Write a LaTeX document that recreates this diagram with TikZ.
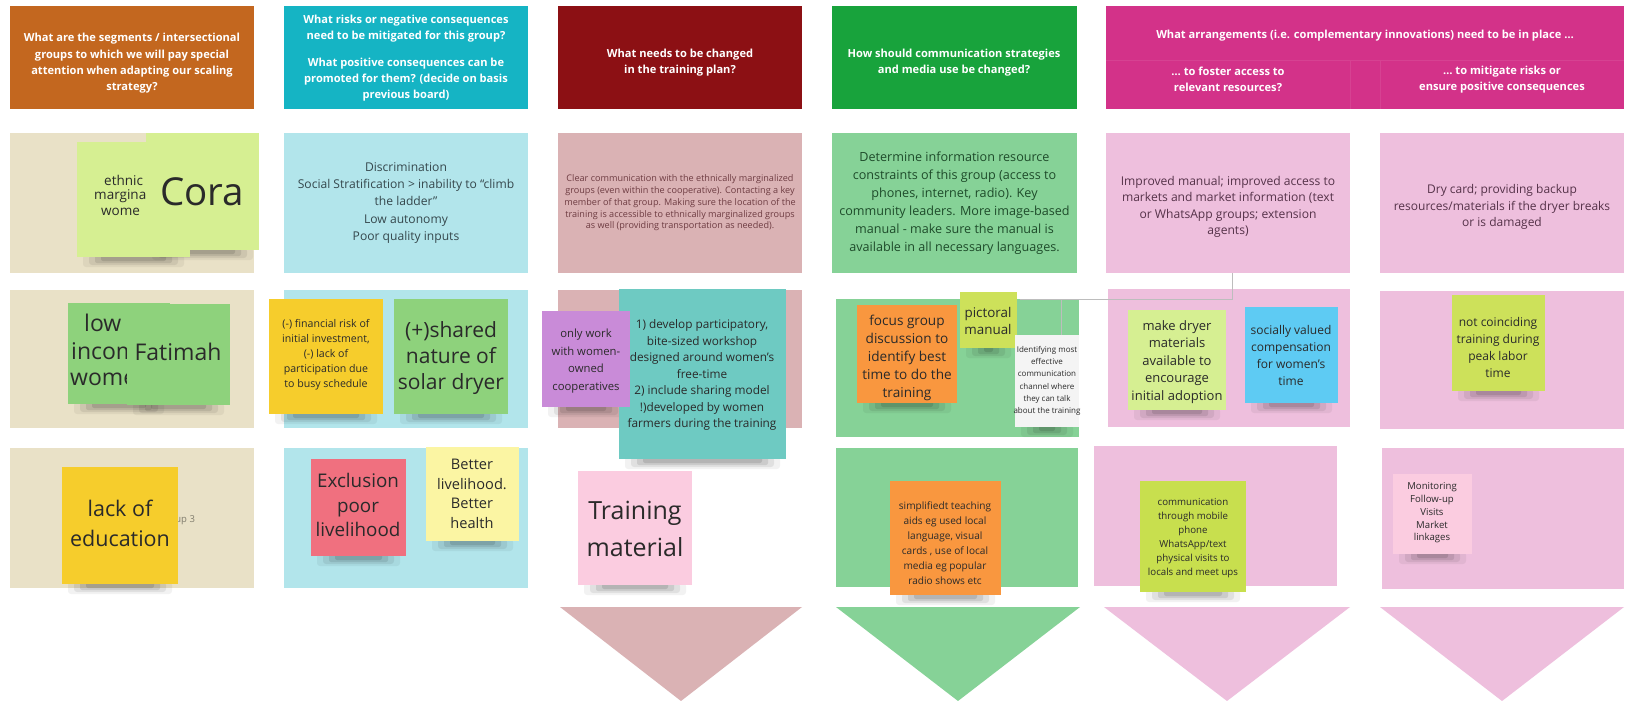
\documentclass[tikz,border=0pt]{standalone}
\usepackage{fontspec}
\setmainfont{Open Sans}
\usetikzlibrary{calc}
\pgfdeclarelayer{bg}
\pgfdeclarelayer{shad}
\pgfsetlayers{bg,shad,main}
\definecolor{hOrange}{HTML}{C3671F}
\definecolor{hTeal}{HTML}{15B4C4}
\definecolor{hRed}{HTML}{8C1014}
\definecolor{hGreen}{HTML}{18A33C}
\definecolor{hMag}{HTML}{D33289}
\definecolor{bBeige}{HTML}{E9E1C7}
\definecolor{bTeal}{HTML}{B2E5EB}
\definecolor{bRosy}{HTML}{DAB2B4}
\definecolor{bGreen}{HTML}{86D297}
\definecolor{bPink}{HTML}{EEBFDD}
\definecolor{nLime}{HTML}{D6EF92}
\definecolor{nGreen}{HTML}{8ED27C}
\definecolor{nYellow}{HTML}{F6CD2C}
\definecolor{nPurple}{HTML}{C98BD8}
\definecolor{nTeal}{HTML}{6ECAC2}
\definecolor{nOrange}{HTML}{F9973F}
\definecolor{nLimeB}{HTML}{CDE15A}
\definecolor{nWhite}{HTML}{F4F4F4}
\definecolor{nBlue}{HTML}{5ECBF3}
\definecolor{nRed}{HTML}{F0707F}
\definecolor{nLYellow}{HTML}{FBF5A3}
\definecolor{nLPink}{HTML}{FBCCE0}
\definecolor{nLimeC}{HTML}{C8DF4E}
\definecolor{tDark}{HTML}{2A2A2A}
\definecolor{tTeal}{HTML}{35474C}
\definecolor{tRosy}{HTML}{6E3C42}
\definecolor{tGreen}{HTML}{1E4B2A}
\definecolor{tPink}{HTML}{553249}
\definecolor{gLine}{HTML}{BDBDBD}
\newcommand\fs[2]{\fontsize{#1}{#2}\selectfont}
\tikzset{
  cell/.style={draw=none,inner sep=0pt,outer sep=0pt,anchor=north west,align=center},
  hdrtxt/.style={text=white,font=\bfseries\fs{11.1}{16},align=center,inner sep=0pt},
  notebox/.style={draw=none,inner sep=0pt,outer sep=0pt,anchor=north west},
  ntxt/.style={align=center,inner sep=0pt,text=tDark},
  gline/.style={draw=gLine,line width=0.8pt}
}
% sticky note with soft shadow: name, colour, x1, y1, x2, y2
\newcommand\sticky[6]{%
  \begin{pgfonlayer}{shad}
    \fill[black,opacity=0.05,rounded corners=3pt] ({#3+6},{#6-2}) rectangle ({#5-6},{#6+10});
    \fill[black,opacity=0.07,rounded corners=3pt] ({#3+12},{#6-2}) rectangle ({#5-12},{#6+8});
    \fill[black,opacity=0.09,rounded corners=2pt] ({#3+18},{#6-2}) rectangle ({#5-18},{#6+6});
    \fill[black,opacity=0.11,rounded corners=2pt] ({#3+24},{#6-2}) rectangle ({#5-24},{#6+4});
  \end{pgfonlayer}
  \node[notebox,fill=#2,minimum width={#5-#3},minimum height={#6-#4}] (#1) at (#3,#4) {};
}
\begin{document}
\begin{tikzpicture}[x=1pt,y=-1pt]
\useasboundingbox (0,0) rectangle (1627,701);
\begin{pgfonlayer}{bg}
\fill[white] (0,0) rectangle (1627,701);
% headers
\node[cell,fill=hOrange,minimum width=244,minimum height=103] (h1) at (10,6) {};
\node[cell,fill=hTeal,minimum width=244,minimum height=103] (h2) at (284,6) {};
\node[cell,fill=hRed,minimum width=244,minimum height=103] (h3) at (558,6) {};
\node[cell,fill=hGreen,minimum width=245,minimum height=103] (h4) at (832,6) {};
\node[cell,fill=hMag,minimum width=518,minimum height=103] (h5) at (1106,6) {};
\draw[white,opacity=0.08,line width=0.8pt] (1106,60) -- (1624,60) (1350,60) -- (1350,109) (1380,60) -- (1380,109);
\end{pgfonlayer}
\node[hdrtxt,font=\bfseries\fs{11.1}{16.3}] (h1t) at (132,63.5)
  {What are the segments / intersectional\\groups to which we will pay special\\attention when adapting our scaling\\strategy?};
\node[hdrtxt] (h2t) at (406,58.5)
  {What risks or negative consequences\\need to be mitigated for this group?\\[11pt]What positive consequences can be\\promoted for them? (decide on basis\\previous board)};
\node[hdrtxt] (h3t) at (680,62.5) {What needs to be changed\\in the training plan?};
\node[hdrtxt] (h4t) at (954,62.5) {How should communication strategies\\and media use be changed?};
\node[hdrtxt] (h5t) at (1365,36) {What arrangements (i.e. complementary innovations) need to be in place \dots};
\node[hdrtxt] (h5a) at (1228,79.5) {\dots\ to foster access to\\relevant resources?};
\node[hdrtxt] (h5b) at (1502,79.5) {\dots\ to mitigate risks or\\ensure positive consequences};
\begin{pgfonlayer}{bg}
% row 2
\node[cell,fill=bBeige,minimum width=244,minimum height=140] (r2c1) at (10,133) {};
\node[cell,fill=bTeal,minimum width=244,minimum height=140,text=tTeal,font=\fs{12.1}{17.4}] (r2c2) at (284,133)
  {Discrimination\\Social Stratification > inability to “climb\\the ladder”\\Low autonomy\\Poor quality inputs};
\node[cell,fill=bRosy,minimum width=244,minimum height=140,text=tRosy,font=\fs{9.1}{11.8}] (r2c3) at (558,133)
  {Clear communication with the ethnically marginalized\\groups (even within the cooperative). Contacting a key\\member of that group. Making sure the location of the\\training is accessible to ethnically marginalized groups\\as well (providing transportation as needed).};
\node[cell,fill=bGreen,minimum width=245,minimum height=140,text=tGreen,font=\fs{12.6}{18}] (r2c4) at (832,133)
  {Determine information resource\\constraints of this group (access to\\phones, internet, radio). Key\\community leaders. More image-based\\manual - make sure the manual is\\available in all necessary languages.};
\node[cell,fill=bPink,minimum width=244,minimum height=140] (r2c5a) at (1106,133) {};
\node[cell,fill=bPink,minimum width=244,minimum height=140] (r2c5b) at (1380,133) {};
% row 3
\node[cell,fill=bBeige,minimum width=244,minimum height=138] (r3c1) at (10,290) {};
\node[cell,fill=bTeal,minimum width=244,minimum height=138] (r3c2) at (284,290) {};
\node[cell,fill=bRosy,minimum width=244,minimum height=138] (r3c3) at (558,290) {};
\node[cell,fill=bGreen,minimum width=243,minimum height=138] (r3c4) at (836,299) {};
\node[cell,fill=bPink,minimum width=242,minimum height=138] (r3c5a) at (1108,289) {};
\node[cell,fill=bPink,minimum width=244,minimum height=138] (r3c5b) at (1380,291) {};
% row 4
\node[cell,fill=bBeige,minimum width=244,minimum height=140] (r4c1) at (10,448) {};
\node[cell,fill=bTeal,minimum width=244,minimum height=140] (r4c2) at (284,448) {};
\node[cell,fill=bGreen,minimum width=242,minimum height=139] (r4c4) at (836,448) {};
\node[cell,fill=bPink,minimum width=243,minimum height=140] (r4c5a) at (1094,446) {};
\node[cell,fill=bPink,minimum width=242,minimum height=141] (r4c5b) at (1382,448) {};
% arrows (triangles)
\fill[bRosy] (560,607) -- (802,607) -- (681,701) -- cycle;
\fill[bGreen] (836,607) -- (1080,607) -- (958,701) -- cycle;
\fill[bPink] (1104,607) -- (1350,607) -- (1227,701) -- cycle;
\fill[bPink] (1380,607) -- (1624,607) -- (1502,701) -- cycle;
\end{pgfonlayer}
\node[text=tPink,font=\fs{12.1}{16.5},align=center,inner sep=0pt] (r2c5at) at (1228,207)
  {Improved manual; improved access to\\markets and market information (text\\or WhatsApp groups; extension\\agents)};
\node[text=tPink,font=\fs{12}{16.6},align=center,inner sep=0pt] (r2c5bt) at (1502,207)
  {Dry card; providing backup\\resources/materials if the dryer breaks\\or is damaged};
% ---- notes ----
\sticky{n-ethnic}{nLime}{77}{142}{190}{257}
\begin{scope}
\clip (77,142) rectangle (146,257);
\node[ntxt,anchor=west,font=\fs{13.5}{16}] (t-eth1) at (104,180) {ethnic};
\node[ntxt,anchor=west,font=\fs{13.5}{16}] (t-eth2) at (94,196) {margina};
\node[ntxt,anchor=west,font=\fs{13.5}{16}] (t-eth3) at (101,212) {wome};
\end{scope}
\sticky{n-cora}{nLime}{146}{133}{259}{250}
\node[ntxt,font=\fs{38.5}{40}] (t-cora) at (202,192) {Cora};
\sticky{n-low}{nGreen}{68}{303}{170}{404}
\begin{scope}
\clip (68,303) rectangle (127,404);
\node[ntxt,anchor=west,font=\fs{23}{28}] (t-low1) at (84,323) {low};
\node[ntxt,anchor=west,font=\fs{23}{28}] (t-low2) at (71,351) {incom};
\node[ntxt,anchor=west,font=\fs{23}{28}] (t-low3) at (70,379) {wome};
\end{scope}
\sticky{n-fat}{nGreen}{127}{304}{230}{405}
\node[ntxt,font=\fs{23}{28}] (t-fat) at (178,352) {Fatimah};
\sticky{n-neg}{nYellow}{269}{299}{383}{414}
\node[ntxt,font=\fs{10.6}{15}] (t-neg) at (326,355) {(-) financial risk of\\initial investment,\\(-) lack of\\participation due\\to busy schedule};
\sticky{n-pos}{nGreen}{394}{299}{508}{414}
\node[ntxt,font=\fs{21}{26}] (t-pos) at (451,358) {(+)shared\\nature of\\solar dryer};
\sticky{n-teal}{nTeal}{619}{289}{786}{459}
\node[ntxt,font=\fs{11.8}{16.5}] (t-teal) at (702,375) {1) develop participatory,\\bite-sized workshop\\designed around women's\\free-time\\2) include sharing model\\!)developed by women\\farmers during the training};
\sticky{n-purple}{nPurple}{542}{311}{630}{407}
\node[ntxt,font=\fs{11.3}{17.5}] (t-purple) at (586,361) {only work\\with women-\\owned\\cooperatives};
\sticky{n-focus}{nOrange}{857}{305}{957}{403}
\node[ntxt,font=\fs{13.6}{18}] (t-focus) at (907,358) {focus group\\discussion to\\identify best\\time to do the\\training};
\sticky{n-pict}{nLimeB}{960}{292}{1017}{348}
\node[ntxt,font=\fs{13.4}{17.6}] (t-pict) at (988,321) {pictoral\\manual};
\sticky{n-white}{nWhite}{1015}{335}{1079}{427}
\node[ntxt,font=\fs{8}{12.3}] (t-white) at (1047,381) {Identifying most\\effective\\communication\\channel where\\they can talk\\about the training};
\sticky{n-dryer}{nLime}{1128}{310}{1226}{410}
\node[ntxt,font=\fs{13}{17.6}] (t-dryer) at (1177,362) {make dryer\\materials\\available to\\encourage\\initial adoption};
\sticky{n-blue}{nBlue}{1245}{307}{1338}{403}
\node[ntxt,font=\fs{12}{17}] (t-blue) at (1291,355) {socially valued\\compensation\\for women's\\time};
\sticky{n-peak}{nLimeB}{1452}{295}{1545}{391}
\node[ntxt,font=\fs{12}{17}] (t-peak) at (1498,347) {not coinciding\\training during\\peak labor\\time};
\node[font=\fs{9.5}{12},text=bBeige!55!black] (t-group3) at (177,520) {Group 3};
\sticky{n-edu}{nYellow}{62}{467}{178}{584}
\node[ntxt,font=\fs{21.5}{30}] (t-edu) at (120,523) {lack of\\education};
\sticky{n-excl}{nRed}{311}{459}{406}{556}
\node[ntxt,font=\fs{18.8}{24.5}] (t-excl) at (358,505) {Exclusion\\poor\\livelihood};
\sticky{n-better}{nLYellow}{426}{447}{519}{541}
\node[ntxt,font=\fs{14.6}{19.5}] (t-better) at (472,494) {Better\\livelihood.\\Better\\health};
\sticky{n-train}{nLPink}{578}{471}{692}{585}
\node[ntxt,font=\fs{25}{36.5}] (t-train) at (635,529) {Training\\material};
\sticky{n-simpl}{nOrange}{890}{481}{1001}{595}
\node[ntxt,font=\fs{10.1}{15.1}] (t-simpl) at (945,543) {simplifiedt teaching\\aids eg used local\\language, visual\\cards , use of local\\media eg popular\\radio shows etc};
\sticky{n-comm}{nLimeC}{1140}{481}{1246}{592}
\node[ntxt,font=\fs{9.7}{13.9}] (t-comm) at (1193,538) {communication\\through mobile\\phone\\WhatsApp/text\\physical visits to\\locals and meet ups};
\sticky{n-mon}{nLPink}{1393}{474}{1472}{554}
\node[ntxt,font=\fs{9.6}{12.7}] (t-mon) at (1432,513) {Monitoring\\Follow-up\\Visits\\Market\\linkages};
% thin grey connector line
\coordinate (gA) at (1020,299);
\coordinate (gB) at (1232,299);
\coordinate (gD) at (1061,299);
\begin{pgfonlayer}{shad}
\draw[gline] (gA) -- (gB) -- (r2c5a.south -| gB);
\draw[gline] (gD) -- ([xshift=14pt]n-white.north);
\end{pgfonlayer}
\end{tikzpicture}
\end{document}
